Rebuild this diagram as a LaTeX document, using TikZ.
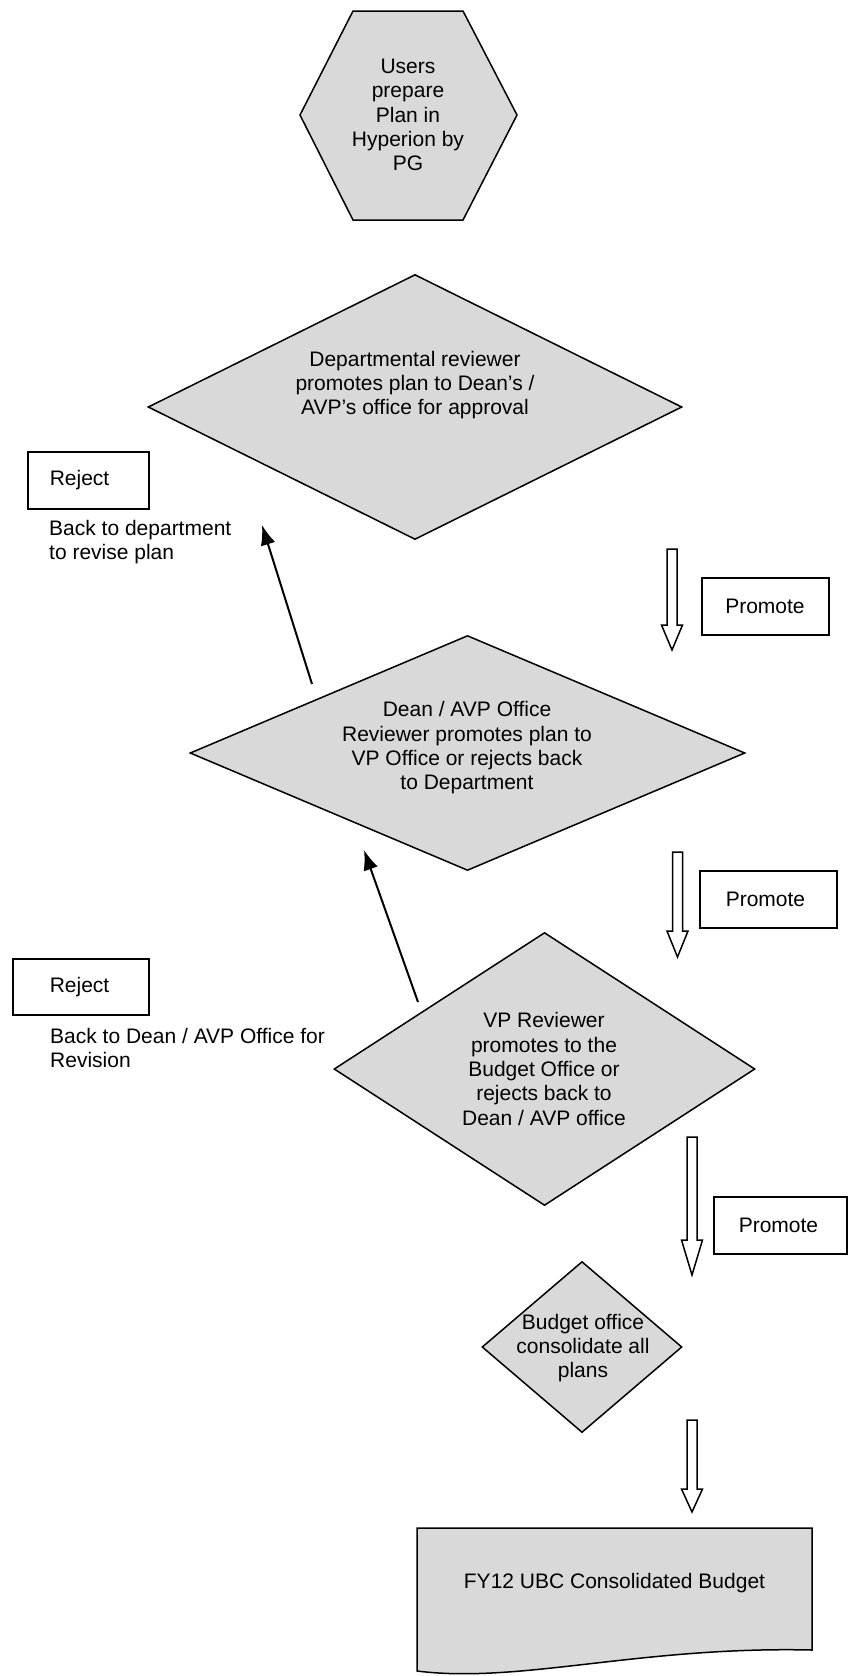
\documentclass[tikz,border=0pt]{standalone}
\usepackage{fontspec}
\setmainfont{Liberation Sans}
\usepackage{tikz}
\usetikzlibrary{shapes.geometric}
\usetikzlibrary{arrows.meta}

\definecolor{boxgray}{RGB}{217,217,217}
\newcommand{\flowfont}{\fontsize{21}{24.3}\selectfont}
% centre x, top y, tip y, head length
\newcommand{\promarrow}[4]{%
\draw[hollowarrow] (#1-5,#2) -- (#1+5,#2) -- (#1+5,#3-#4) -- (#1+10.5,#3-#4) -- (#1,#3) -- (#1-10.5,#3-#4) -- (#1-5,#3-#4) -- cycle;}

\tikzset{
  outline/.style={draw=black, line width=1.5pt},
  greyshape/.style={outline, fill=boxgray},
  decision/.style={greyshape, diamond, inner sep=0pt},
  flowtext/.style={font=\flowfont, align=center, inner sep=0pt},
  tagbox/.style={outline, font=\flowfont, anchor=north west, minimum height=57pt, align=left, inner ysep=0pt},
  backnote/.style={font=\flowfont, anchor=north west, align=left, inner sep=0pt},
  hollowarrow/.style={draw=black, line width=1.5pt, fill=white, line join=miter},
  rejectarrow/.style={line width=2pt, -{Latex[length=20pt,width=15pt]}}
}

\begin{document}
\begin{tikzpicture}[x=1pt,y=-1pt]
\useasboundingbox (0,0) rectangle (847,1676);

%hexagon at the top
\draw[greyshape] (353,11) -- (463,11) -- (517,115) -- (463,220) -- (353,220) -- (300,115) -- cycle;
\node[flowtext] (users) at (408,115) {Users\\prepare\\Plan in\\Hyperion by\\PG};

%the four reviewers
\node[decision, minimum width=534pt, minimum height=265pt] (dept) at (415,407) {};
\node[flowtext] (depttext) at (415,385) {Departmental reviewer\\promotes plan to Dean’s /\\AVP’s office for approval};
\node[decision, minimum width=555pt, minimum height=235pt] (dean) at (467.5,753) {};
\node[flowtext] (deantext) at (467,748) {Dean / AVP Office\\Reviewer promotes plan to\\VP Office or rejects back\\to Department};
\node[decision, minimum width=421pt, minimum height=273pt] (vp) at (544.5,1069) {};
\node[flowtext] (vptext) at (544,1069) {VP Reviewer\\promotes to the\\Budget Office or\\rejects back to\\Dean / AVP office};
\node[decision, minimum width=200pt, minimum height=171pt] (budget) at (582,1347) {};
\node[flowtext] (budgettext) at (583,1348) {Budget office\\consolidate all\\plans};

%document at the bottom
\draw[greyshape] (417,1528) -- (812,1528) -- (812,1650) .. controls (640,1646) and (520,1684) .. (417,1671) -- cycle;
\node[flowtext] (fybudget) at (614.5,1583) {FY12 UBC Consolidated Budget};

%reject side
\node[tagbox, text width=77pt, inner xsep=22pt] (reject1) at (27,451) {Reject};
\node[backnote] (back1) at (49,520) {Back to department\\to revise plan};
\node[tagbox, text width=62pt, inner xsep=37pt, minimum height=56pt] (reject2) at (12,958) {Reject};
\node[backnote] (back2) at (50,1028) {Back to Dean / AVP Office for\\Revision};

\coordinate (rej1tail) at (312,684);
\coordinate (rej1tip) at (262,525);
\coordinate (rej2tail) at (418,1002);
\coordinate (rej2tip) at (364,850);
\draw[rejectarrow] (rej1tail) -- (rej1tip);
\draw[rejectarrow] (rej2tail) -- (rej2tip);

%promote side
\node[tagbox, text width=80pt, inner xsep=23.5pt] (promote1) at (701,577) {Promote};
\node[tagbox, text width=85pt, inner xsep=26pt] (promote2) at (699,870) {Promote};
\node[tagbox, text width=83pt, inner xsep=25pt] (promote3) at (713,1196) {Promote};

\promarrow{672}{549}{650}{25}
\promarrow{677.5}{852}{957}{26}
\promarrow{692}{1137}{1275}{35}
\promarrow{692}{1420}{1512}{23}

\end{tikzpicture}
\end{document}
